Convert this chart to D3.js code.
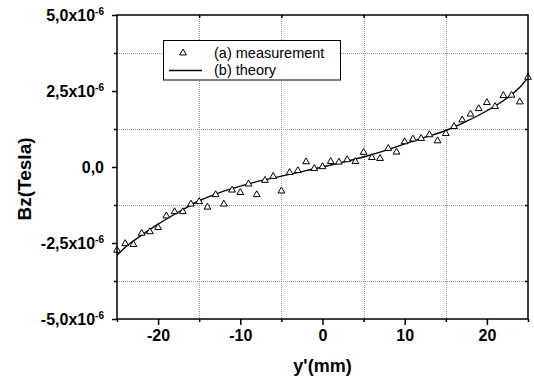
<!DOCTYPE html>
<html>
<head>
<meta charset="utf-8">
<script src="https://cdn.jsdelivr.net/npm/d3@7"></script>
<style>
  html, body { margin: 0; padding: 0; background: #fff; }
  svg { display: block; font-family: Arial, 'Liberation Sans', sans-serif; }
</style>
</head>
<body>
<div id="app"></div>
<script>
// measured points, y' in mm, Bz in 1e-6 Tesla
const measureX = [-25, -24, -23, -22, -21, -20, -19, -18, -17, -16, -15, -14, -13, -12, -11, -10, -9, -8, -7, -6, -5, -4, -3, -2, -1,
  0, 1, 2, 3, 4, 5, 6, 7, 8, 9, 10, 11, 12, 13, 14, 15, 16, 17, 18, 19, 20, 21, 22, 23, 24, 25]
const measureBz = [-2.74, -2.52, -2.55, -2.18, -2.13, -1.99, -1.61, -1.47, -1.47, -1.22, -1.14, -1.32, -0.91, -1.22, -0.76, -0.84, -0.56, -0.91, -0.44, -0.31, -0.79, -0.18, -0.12, 0.17, -0.05,
  0.01, 0.18, 0.16, 0.24, 0.18, 0.48, 0.31, 0.28, 0.61, 0.49, 0.83, 0.92, 0.94, 1.06, 0.86, 1.10, 1.33, 1.55, 1.74, 1.92, 2.12, 1.99, 2.35, 2.36, 2.14, 2.95]

// theory curve
const theoryX = [-25, -24, -23, -22, -20, -17.5, -15, -12.5, -10, -7.5, -5, -2.5, 0, 2.5, 5, 7.5, 10, 12.5, 15, 17.5, 20, 22, 23, 24, 25]
const theoryBz = [-2.90, -2.64, -2.43, -2.24, -1.88, -1.48, -1.11, -0.84, -0.63, -0.45, -0.30, -0.15, 0.00, 0.16, 0.33, 0.53, 0.76, 0.98, 1.20, 1.50, 1.85, 2.18, 2.38, 2.62, 2.95]

const xMajor = [-20, -10, 0, 10, 20]
const xMinor = [-25, -15, -5, 5, 15, 25]
const yMajor = [-5, -2.5, 0, 2.5, 5]
const yMinor = [-3.75, -1.25, 1.25, 3.75]

const legendLabels = ['(a) measurement', '(b) theory']
const xTitle = "y'(mm)"
const yTitle = 'Bz(Tesla)'

const width = 534
const height = 380
const margin = { top: 15, right: 6, bottom: 61, left: 117 }
const innerW = width - margin.left - margin.right
const innerH = height - margin.top - margin.bottom

const svg = d3.select('#app').append('svg')
  .attr('width', width)
  .attr('height', height)

const x = d3.scaleLinear().domain([-25, 25]).range([margin.left, width - margin.right])
const y = d3.scaleLinear().domain([-5, 5]).range([height - margin.bottom, margin.top])

// dotted grid on the minor ticks
const grid = svg.append('g').attr('stroke', '#999').attr('stroke-width', 1).attr('stroke-dasharray', '1,1')
grid.selectAll('line.gx')
  .data(xMinor.filter((d) => d > -25 && d < 25))
  .join('line')
  .attr('class', 'gx')
  .attr('x1', (d) => Math.round(x(d)) + 0.5)
  .attr('x2', (d) => Math.round(x(d)) + 0.5)
  .attr('y1', y(5))
  .attr('y2', y(-5))
grid.selectAll('line.gy')
  .data(yMinor)
  .join('line')
  .attr('class', 'gy')
  .attr('y1', (d) => Math.round(y(d)) + 0.5)
  .attr('y2', (d) => Math.round(y(d)) + 0.5)
  .attr('x1', x(-25))
  .attr('x2', x(25))

// theory line
const line = d3.line()
  .x((d, i) => x(theoryX[i]))
  .y((d) => y(d))
  .curve(d3.curveMonotoneX)

svg.append('path')
  .datum(theoryBz)
  .attr('fill', 'none')
  .attr('stroke', '#000')
  .attr('stroke-width', 1.4)
  .attr('d', line)

// measurement triangles
const tri = d3.symbol(d3.symbolTriangle, 20)
svg.append('g')
  .selectAll('path')
  .data(measureBz)
  .join('path')
  .attr('d', tri)
  .attr('transform', (d, i) => `translate(${x(measureX[i])},${y(d)})`)
  .attr('fill', '#fff')
  .attr('stroke', '#000')
  .attr('stroke-width', 1)

// frame
svg.append('rect')
  .attr('x', x(-25))
  .attr('y', y(5))
  .attr('width', innerW)
  .attr('height', innerH)
  .attr('fill', 'none')
  .attr('stroke', '#000')
  .attr('stroke-width', 1.5)

// axes
const styleAxis = (g) => {
  g.select('.domain').remove()
  g.selectAll('.tick line').attr('stroke', '#000').attr('stroke-width', 1.5)
}

svg.append('g')
  .attr('transform', `translate(0,${y(-5)})`)
  .call(d3.axisBottom(x).tickValues(xMajor).tickSize(6).tickPadding(5).tickFormat((d) => String(d)))
  .call(styleAxis)
  .call((g) => g.selectAll('text')
    .attr('font-size', 16)
    .attr('font-weight', 'bold')
    .attr('fill', '#000'))

svg.append('g')
  .attr('transform', `translate(0,${y(-5)})`)
  .call(d3.axisBottom(x).tickValues(xMinor).tickSize(3).tickFormat(''))
  .call(styleAxis)

svg.append('g')
  .attr('transform', `translate(0,${y(5)})`)
  .call(d3.axisTop(x).tickValues(xMinor.filter((d) => d > -25 && d < 25)).tickSize(-3).tickFormat(''))
  .call(styleAxis)

svg.append('g')
  .attr('transform', `translate(${x(25)},0)`)
  .call(d3.axisRight(y).tickValues(yMinor).tickSize(-3).tickFormat(''))
  .call(styleAxis)

const yAxis = svg.append('g')
  .attr('transform', `translate(${x(-25)},0)`)
  .call(d3.axisLeft(y).tickValues(yMajor).tickSize(5).tickPadding(8))
  .call(styleAxis)

yAxis.selectAll('.tick text')
  .attr('font-size', 16)
  .attr('font-weight', 'bold')
  .attr('fill', '#000')
  .text(null)
  .each(function (d) {
    const t = d3.select(this)
    const base = d.toFixed(1).replace('.', ',')
    if (d === 0) {
      t.text(base)
      return
    }
    t.append('tspan').text(base + 'x10')
    t.append('tspan').attr('font-size', 10).attr('dy', '-0.6em').text('-6')
  })

svg.append('g')
  .attr('transform', `translate(${x(-25)},0)`)
  .call(d3.axisLeft(y).tickValues(yMinor).tickSize(3).tickFormat(''))
  .call(styleAxis)

// axis titles
svg.append('text')
  .attr('x', (x(-25) + x(25)) / 2)
  .attr('y', 372)
  .attr('text-anchor', 'middle')
  .attr('font-size', 18)
  .attr('font-weight', 'bold')
  .text(xTitle)

svg.append('text')
  .attr('transform', `translate(31,179) rotate(-90)`)
  .attr('text-anchor', 'middle')
  .attr('font-size', 19)
  .attr('font-weight', 'bold')
  .text(yTitle)

// legend
const legend = svg.append('g')
legend.append('rect')
  .attr('x', 163.5)
  .attr('y', 40.5)
  .attr('width', 177)
  .attr('height', 39.5)
  .attr('fill', '#fff')
  .attr('stroke', '#000')
  .attr('stroke-width', 1)
legend.append('path')
  .attr('d', tri)
  .attr('transform', 'translate(183,53)')
  .attr('fill', '#fff')
  .attr('stroke', '#000')
legend.append('line')
  .attr('x1', 169)
  .attr('x2', 202)
  .attr('y1', 70.5)
  .attr('y2', 70.5)
  .attr('stroke', '#000')
  .attr('stroke-width', 1.4)
legend.selectAll('text')
  .data(legendLabels)
  .join('text')
  .attr('x', 214)
  .attr('y', (d, i) => 58 + i * 17)
  .attr('font-size', 14.5)
  .text((d) => d)
</script>
</body>
</html>
